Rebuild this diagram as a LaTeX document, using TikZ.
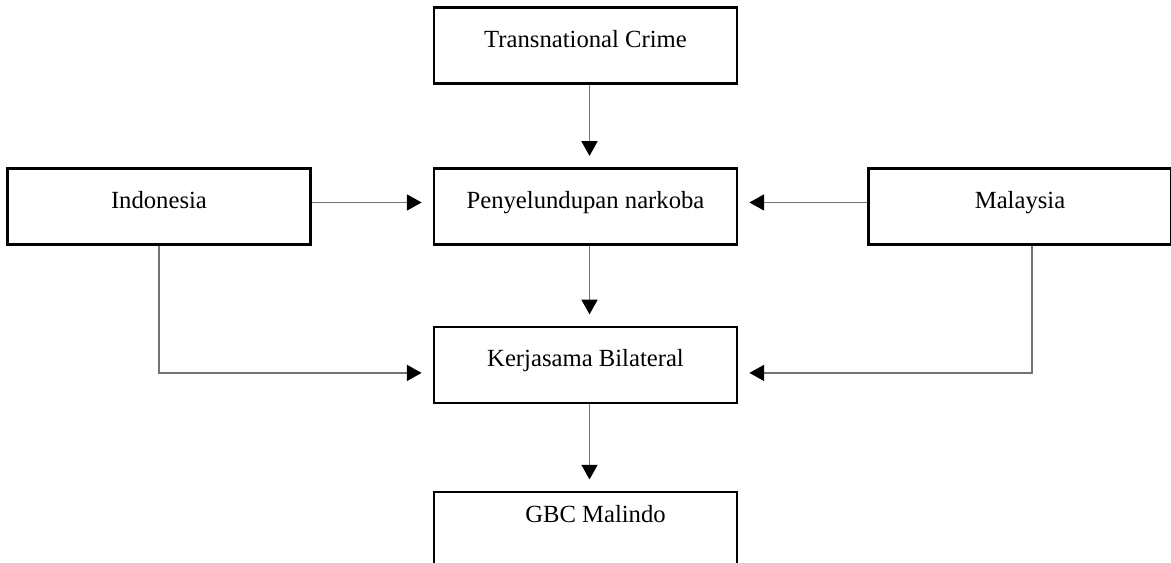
\documentclass[tikz,border=0pt]{standalone}
\usepackage{fontspec}
\setmainfont{Liberation Serif}
\usetikzlibrary{arrows.meta,positioning}

\begin{document}
\begin{tikzpicture}[
  font=\fontsize{18.5}{22}\selectfont,
  >={Triangle[length=11pt,width=12pt,color=black]},
  box/.style={
    rectangle, draw=black, line width=1.8pt, fill=white,
    minimum width=227pt, minimum height=57pt,
    text height=13pt, text depth=10pt, inner sep=0pt},
  link/.style={->, line width=1pt, draw=black!55, shorten >=8.5pt},
]

% ---- Frame (the last box runs off the page) ----
\useasboundingbox (0,0) rectangle (878pt,-421.5pt);
\clip (0,0) rectangle (878pt,-421.5pt);

% ---- Middle column ----
\node[box] (crime) at (439pt,-34pt) {Transnational Crime};
\node[box, below=62pt of crime] (narkoba) {Penyelundupan narkoba};
\node[box, below=60pt of narkoba] (bilateral) {Kerjasama Bilateral};
\node[box, below=65pt of bilateral, minimum height=90pt,
      text height=18pt, text depth=62pt, inner ysep=5pt] (gbc) {\hspace*{15pt}GBC Malindo};

% ---- The two states ----
\node[box, left=91pt of narkoba] (indo) {Indonesia};
\node[box, right=97pt of narkoba] (malay) {Malaysia};

% ---- Links ----
\draw[link] ([xshift=3pt]crime.south) -- ([xshift=3pt]narkoba.north);
\draw[link] ([yshift=3pt]indo.east) -- ([yshift=3pt]narkoba.west);
\draw[link] ([yshift=3pt]malay.west) -- ([yshift=3pt]narkoba.east);
\draw[link] ([xshift=3pt]narkoba.south) -- ([xshift=3pt]bilateral.north);
\draw[link] (indo.south) |- ([yshift=-6pt]bilateral.west);
\draw[link] ([xshift=9pt]malay.south) |- ([yshift=-6pt]bilateral.east);
\draw[link] ([xshift=3pt]bilateral.south) -- ([xshift=3pt]gbc.north);

\end{tikzpicture}
\end{document}
